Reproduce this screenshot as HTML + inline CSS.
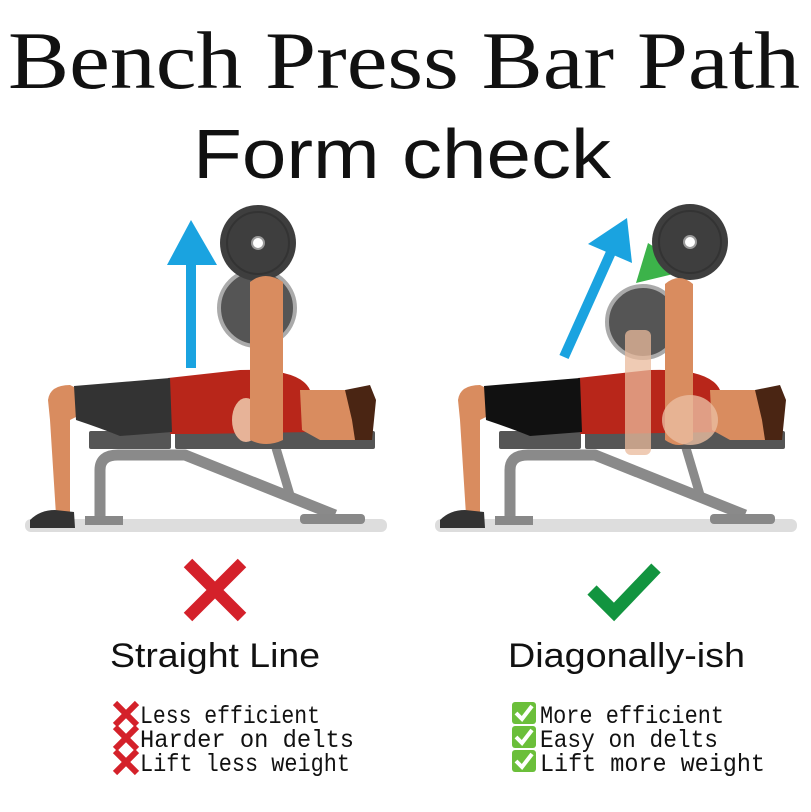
<!DOCTYPE html>
<html><head><meta charset="utf-8"><style>
html,body{margin:0;padding:0;background:#fff;}
svg{display:block}
</style></head><body>
<svg width="811" height="812" viewBox="0 0 811 812" xmlns="http://www.w3.org/2000/svg">
<rect width="811" height="812" fill="#fff"/>
<text x="8" y="88" font-family="Liberation Serif, serif" font-size="82" textLength="792" lengthAdjust="spacingAndGlyphs" fill="#111">Bench Press Bar Path</text>
<text x="193" y="178" font-family="Liberation Sans, sans-serif" font-size="70" textLength="418" lengthAdjust="spacingAndGlyphs" fill="#111">Form check</text>

<defs>
<g id="fig">
  <rect x="25" y="519" width="362" height="13" rx="6" fill="#ddd"/>
  <path d="M100 520 V470 Q100 455 118 455 H185 L335 515" fill="none" stroke="#8a8a8a" stroke-width="11" stroke-linejoin="round"/>
  <rect x="85" y="516" width="38" height="9" fill="#888"/>
  <rect x="300" y="514" width="65" height="10" rx="4" fill="#888"/>
  <line x1="276" y1="448" x2="290" y2="495" stroke="#8a8a8a" stroke-width="9"/>
  <rect x="89" y="431" width="82" height="18" rx="2" fill="#555"/>
  <rect x="175" y="431" width="200" height="18" rx="2" fill="#555"/>
  <path d="M48 400 Q50 385 70 385 L80 390 L80 415 L70 420 L70 515 L56 515 L50 420 Z" fill="#d98c5f"/>
  <path d="M30 520 Q40 510 55 510 L74 512 L75 528 L30 528 Z" fill="#333"/>
  <path d="M168 378 L240 370 Q300 368 310 390 L312 432 L200 434 L170 434 Z" fill="#b8261a"/>
  <path d="M300 390 L345 390 L360 395 L365 440 L320 440 L302 430 Z" fill="#d98c5f"/>
  <path d="M345 390 L370 385 L376 400 L372 440 L355 440 L352 420 Z" fill="#4a2513"/>
</g>
</defs>

<!-- LEFT -->
<use href="#fig"/>
<path d="M74 386 L170 378 L172 432 L120 436 Q100 428 76 420 Z" fill="#333"/>
<ellipse cx="246" cy="420" rx="14" ry="22" fill="#e7b398"/>
<circle cx="257" cy="308" r="38" fill="#555" stroke="#aaa" stroke-width="4"/>
<circle cx="258" cy="243" r="38" fill="#3e3e3e"/>
<circle cx="258" cy="243" r="31" fill="none" stroke="#333" stroke-width="2"/>
<circle cx="258" cy="243" r="6" fill="#fff" stroke="#999" stroke-width="2"/>
<path d="M250 282 Q265 270 283 282 L283 440 Q266 448 250 440 Z" fill="#d98c5f"/>
<polygon points="191,220 167,265 217,265" fill="#1aa3e0"/>
<rect x="186" y="263" width="10" height="105" fill="#1aa3e0"/>

<!-- RIGHT -->
<g transform="translate(410,0)"><use href="#fig"/></g>
<path d="M484 386 L580 378 L582 432 L530 436 Q510 428 486 420 Z" fill="#111"/>
<circle cx="643" cy="322" r="36" fill="#555" stroke="#aaa" stroke-width="4"/>
<polygon points="648,243 636,283 690,270" fill="#3cb34a"/>
<circle cx="690" cy="242" r="38" fill="#3e3e3e"/>
<circle cx="690" cy="242" r="31" fill="none" stroke="#333" stroke-width="2"/>
<circle cx="690" cy="242" r="6" fill="#fff" stroke="#999" stroke-width="2"/>
<rect x="625" y="330" width="26" height="125" rx="6" fill="#e9b99b" opacity="0.75"/>
<path d="M665 284 Q679 272 693 284 L693 440 Q679 450 665 440 Z" fill="#d98c5f"/>
<ellipse cx="690" cy="420" rx="28" ry="25" fill="#eabda0" opacity="0.8"/>
<polygon points="627,218 588,244 632,263" fill="#1aa3e0"/>
<line x1="564" y1="357" x2="612" y2="250" stroke="#1aa3e0" stroke-width="10"/>

<g stroke="#d4212a" stroke-width="12">
<line x1="188" y1="563" x2="242" y2="617"/><line x1="242" y1="563" x2="188" y2="617"/>
</g>
<polyline points="592,590 614,612 656,568" fill="none" stroke="#12943f" stroke-width="13"/>

<text x="110" y="667" font-family="Liberation Sans, sans-serif" font-size="34" fill="#111" textLength="210" lengthAdjust="spacingAndGlyphs">Straight Line</text>
<text x="508" y="667" font-family="Liberation Sans, sans-serif" font-size="34" fill="#111" textLength="237" lengthAdjust="spacingAndGlyphs">Diagonally-ish</text>

<g font-family="Liberation Mono, monospace" font-size="25" fill="#111">
<text x="140" y="723" textLength="180" lengthAdjust="spacingAndGlyphs">Less efficient</text>
<text x="140" y="747" textLength="214" lengthAdjust="spacingAndGlyphs">Harder on delts</text>
<text x="140" y="771" textLength="210" lengthAdjust="spacingAndGlyphs">Lift less weight</text>
<text x="540" y="723" textLength="184" lengthAdjust="spacingAndGlyphs">More efficient</text>
<text x="540" y="747" textLength="178" lengthAdjust="spacingAndGlyphs">Easy on delts</text>
<text x="540" y="771" textLength="225" lengthAdjust="spacingAndGlyphs">Lift more weight</text>
</g>
<g stroke="#d4212a" stroke-width="6">
<line x1="115" y1="703" x2="137" y2="725"/><line x1="137" y1="703" x2="115" y2="725"/>
<line x1="115" y1="727" x2="137" y2="749"/><line x1="137" y1="727" x2="115" y2="749"/>
<line x1="115" y1="751" x2="137" y2="773"/><line x1="137" y1="751" x2="115" y2="773"/>
</g>
<g>
<rect x="512" y="702" width="24" height="22" rx="3" fill="#6bbf3a"/>
<rect x="512" y="726" width="24" height="22" rx="3" fill="#6bbf3a"/>
<rect x="512" y="750" width="24" height="22" rx="3" fill="#6bbf3a"/>
<g fill="none" stroke="#fff" stroke-width="4">
<polyline points="516,713 522,719 532,706"/>
<polyline points="516,737 522,743 532,730"/>
<polyline points="516,761 522,767 532,754"/>
</g>
</g>
</svg>
</body></html>
